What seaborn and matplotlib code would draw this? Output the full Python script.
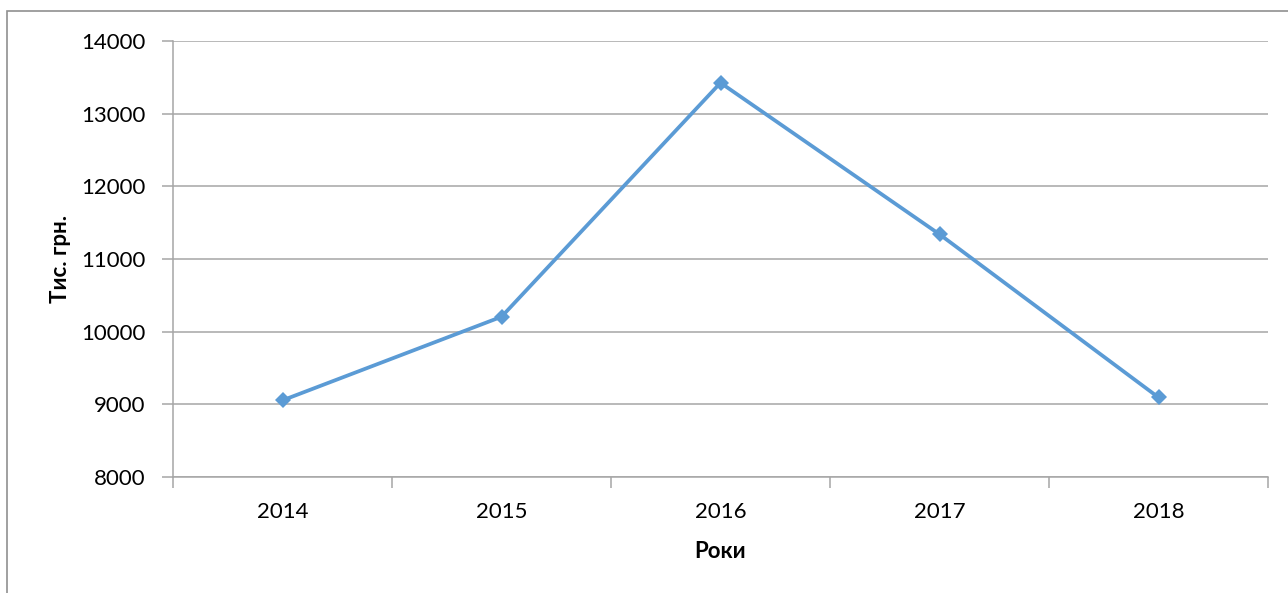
import matplotlib
matplotlib.use("Agg")
import matplotlib.pyplot as plt
import seaborn as sns
import pandas as pd
from matplotlib.patches import Rectangle
from matplotlib.ticker import FixedLocator, NullFormatter

years = ["2014", "2015", "2016", "2017", "2018"]
values = [9055, 10205, 13425, 11340, 9095]
y_ticks = [8000, 9000, 10000, 11000, 12000, 13000, 14000]
x_label = "Роки"
y_label = "Тис. грн."

sns.set_theme(style="white")
plt.rcParams['font.family'] = ['Lato', 'DejaVu Sans']

df = pd.DataFrame({"idx": range(len(years)), "year": years, "value": values})

W, H = 1288, 593
fig = plt.figure(figsize=(W / 100, H / 100), dpi=100)
ax = fig.add_axes([173 / W, 1 - 477 / H, (1268 - 173) / W, (477 - 41) / H])

grid_c = "#A6A6A6"
sns.lineplot(data=df, x="idx", y="value", ax=ax, color="#5B9BD5",
             linewidth=2.7, marker="D", markersize=8.5, markeredgewidth=0)

ax.set_xlim(-0.5, len(years) - 0.5)
ax.set_ylim(y_ticks[0], y_ticks[-1])
ax.set_yticks(y_ticks)
ax.yaxis.grid(True, color=grid_c, linewidth=1.1)
ax.set_axisbelow(True)

ax.xaxis.set_major_locator(FixedLocator([i - 0.5 for i in range(len(years) + 1)]))
ax.xaxis.set_major_formatter(NullFormatter())
ax.xaxis.set_minor_locator(FixedLocator(list(range(len(years)))))
ax.set_xticklabels(years, minor=True)
ax.tick_params(axis="x", which="major", length=8, width=1.1, color=grid_c, direction="out", bottom=True)
ax.tick_params(axis="x", which="minor", length=0, pad=18, labelsize=16, labelcolor="#000000")
ax.tick_params(axis="y", length=8, width=1.1, color=grid_c, direction="out", left=True,
               pad=12, labelsize=16, labelcolor="#000000")

for s in ["top", "right"]:
    ax.spines[s].set_visible(False)
for s in ["left", "bottom"]:
    ax.spines[s].set_color(grid_c)
    ax.spines[s].set_linewidth(1.1)

ax.set_xlabel(x_label, fontsize=16, fontweight="bold", color="#000000", labelpad=14)
ax.set_ylabel(y_label, fontsize=16, fontweight="bold", color="#000000", labelpad=7)

fig.patches.append(Rectangle((7 / W, -0.1), 1.2, 1 - 11 / H + 0.1, transform=fig.transFigure,
                             fill=False, edgecolor="#909090", linewidth=1.2))

fig.savefig("out.png", dpi=100)
